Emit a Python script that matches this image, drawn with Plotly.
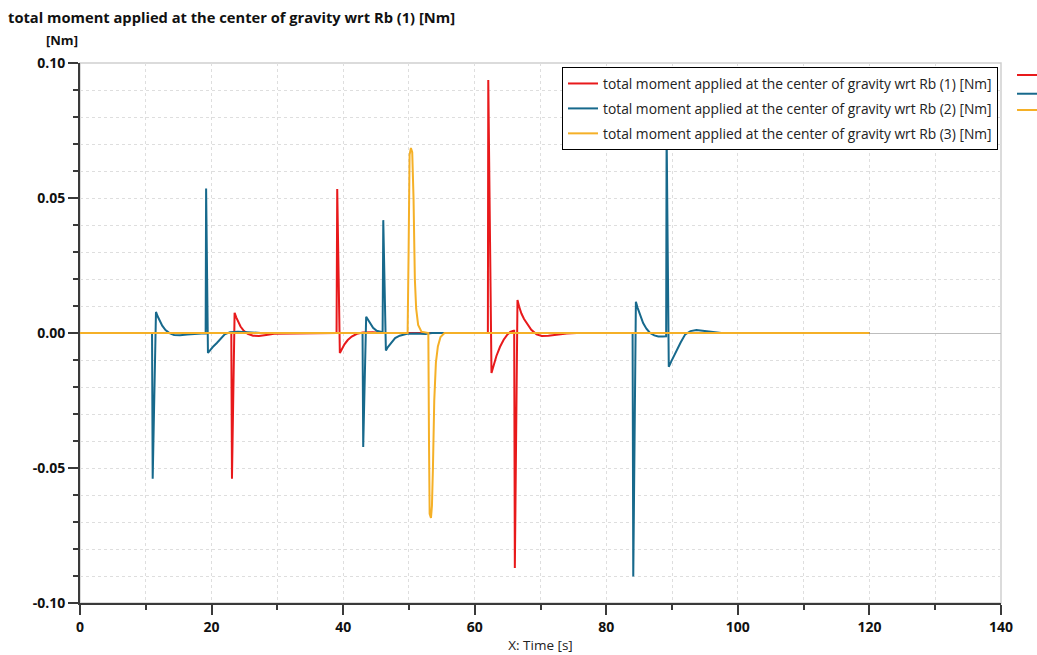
import plotly.graph_objects as go

# ---------------- data ----------------
series_names = [
    "total moment applied at the center of gravity wrt Rb (1) [Nm]",
    "total moment applied at the center of gravity wrt Rb (2) [Nm]",
    "total moment applied at the center of gravity wrt Rb (3) [Nm]",
]

t_rb1 = [0, 23.0, 23.1, 23.5, 23.75, 24.0, 24.4, 24.9, 25.5, 26.3, 27.2, 28.3, 29.5,
         39.0, 39.1, 39.5, 39.8, 40.2, 40.7, 41.3, 42.1, 43.0, 44.5, 46.0,
         62.0, 62.06, 62.55, 62.9, 63.3, 63.85, 64.4, 64.9, 65.4, 65.9, 66.0,
         66.1, 66.5, 66.75, 67.1, 67.5, 67.9, 68.6, 69.4, 70.2, 71.2, 72.5, 74.0, 75.5, 120]
m_rb1 = [0, 0, -0.054, 0.0075, 0.0058, 0.0042, 0.0024, 0.0008, -0.0003, -0.0010, -0.0011, -0.0007, -0.0003,
         0, 0.0533, -0.0074, -0.0058, -0.0042, -0.0026, -0.0013, -0.0003, 0.0002, 0.0003, 0,
         0, 0.0937, -0.0148, -0.0115, -0.0085, -0.0051, -0.0025, -0.0008, 0.0004, 0.0008, 0.0008,
         -0.087, 0.0122, 0.0098, 0.0072, 0.0052, 0.0037, 0.0012, -0.0005, -0.0011, -0.0010, -0.0006, -0.0002, 0, 0]

t_rb2 = [0, 10.95, 11.05, 11.55, 11.8, 12.1, 12.5, 13.0, 13.6, 14.3, 15.2, 16.3, 17.5, 18.5, 19.1,
         19.17, 19.45, 19.8, 20.3, 20.8, 21.4, 22.0, 22.8, 24.0, 25.5, 27.5,
         42.95, 43.05, 43.5, 43.8, 44.1, 44.55, 45.1, 45.6, 46.0,
         46.1, 46.5, 46.8, 47.3, 47.9, 48.6, 49.7, 51.0, 52.5, 53.5,
         84.0, 84.1, 84.5, 84.75, 85.1, 85.6, 86.1, 86.65, 87.3, 87.9, 88.6, 89.1,
         89.17, 89.5, 89.9, 90.3, 90.7, 91.3, 92.0, 92.8, 93.7, 94.7, 95.8, 97.5, 120]
m_rb2 = [0, 0, -0.054, 0.0078, 0.0062, 0.0045, 0.0027, 0.0011, 0.0000, -0.0007, -0.0008, -0.0006, -0.0003, -0.0002, -0.0002,
         0.0535, -0.0074, -0.0063, -0.0049, -0.0037, -0.0020, -0.0005, 0.0003, 0.0005, 0.0003, 0,
         0, -0.0422, 0.0060, 0.0048, 0.0037, 0.0019, 0.0008, 0.0004, 0.0003,
         0.0418, -0.0065, -0.0052, -0.0035, -0.0019, -0.0010, -0.0003, -0.0002, -0.0004, 0,
         0, -0.0902, 0.0116, 0.0094, 0.0068, 0.0037, 0.0016, 0.0000, -0.0009, -0.0013, -0.0013, -0.0012,
         0.075, -0.0125, -0.0104, -0.0083, -0.0063, -0.0035, -0.0005, 0.0007, 0.0011, 0.0008, 0.0003, 0, 0]

t_rb3 = [0, 49.8, 49.95, 50.1, 50.3, 50.5, 50.7, 50.9, 51.1, 51.4, 51.9,
         52.95, 53.05, 53.15, 53.35, 53.5, 53.65, 53.85, 54.1, 54.4, 54.8, 55.4, 120]
m_rb3 = [0, 0, 0.03, 0.066, 0.0685, 0.067, 0.05, 0.02, 0.009, 0.003, 0.0005,
         0, -0.04, -0.067, -0.0685, -0.064, -0.05, -0.025, -0.011, -0.005, -0.0015, 0, 0]

series_colors = ["#e8191b", "#17698c", "#f5b027"]

x_ticks = [0, 20, 40, 60, 80, 100, 120, 140]
y_ticks = [-0.10, -0.05, 0.00, 0.05, 0.10]
y_ticklabels = ["-0.10", "-0.05", "0.00", "0.05", "0.10"]

# ---------------- figure ----------------
fig = go.Figure()
for i, (tt, mm) in enumerate([(t_rb1, m_rb1), (t_rb2, m_rb2), (t_rb3, m_rb3)]):
    fig.add_trace(go.Scatter(
        x=tt, y=mm, mode="lines", name=series_names[i],
        line=dict(color=series_colors[i], width=2),
        legendgroup=f"g{i}",
    ))

FONT = "Open Sans"
grid_col = "#dedede"
axis_col = "#3a3a3a"

fig.update_layout(
    width=1037, height=655,
    margin=dict(l=80, r=36, t=63, b=52),
    paper_bgcolor="white", plot_bgcolor="white",
    font=dict(family=FONT, color="#222"),
    title=dict(
        text="total moment applied at the center of gravity wrt Rb (1) [Nm]",
        x=8 / 1037, xanchor="left", xref="container",
        y=1 - 18 / 655, yanchor="middle", yref="container",
        font=dict(family=FONT, size=14.7, weight="bold", color="#111"),
    ),
    showlegend=True,
    legend=dict(
        x=(562 - 80) / 921, y=(603 - 67) / 540, xanchor="left", yanchor="top",
        bgcolor="white", bordercolor="black", borderwidth=1,
        font=dict(family=FONT, size=13.8, color="#222"),
        traceorder="grouped", tracegroupgap=4, itemwidth=30,
    ),
    xaxis=dict(
        range=[0, 140], tickmode="array", tickvals=x_ticks, automargin=False,
        showline=True, linecolor=axis_col, linewidth=2,
        ticks="outside", ticklen=10, tickwidth=1.5, tickcolor=axis_col,
        showgrid=True, gridcolor=grid_col, griddash="dot", gridwidth=1,
        zeroline=False,
        minor=dict(dtick=10, tick0=0, ticks="outside", ticklen=5, tickcolor=axis_col,
                   showgrid=True, gridcolor=grid_col, griddash="dot"),
        tickfont=dict(family=FONT, size=14, weight="bold", color="#111"),
        title=dict(text="X: Time [s]", font=dict(family=FONT, size=13.5, color="#222"), standoff=6),
    ),
    yaxis=dict(
        range=[-0.1, 0.1], tickmode="array", tickvals=y_ticks, ticktext=y_ticklabels, automargin=False,
        showline=True, linecolor=axis_col, linewidth=2,
        ticks="outside", ticklen=10, tickwidth=1.5, tickcolor=axis_col,
        showgrid=True, gridcolor=grid_col, griddash="dot", gridwidth=1,
        zeroline=True, zerolinecolor="#bdbdbd", zerolinewidth=1,
        minor=dict(dtick=0.01, tick0=0, ticks="outside", ticklen=5, tickcolor=axis_col,
                   showgrid=True, gridcolor=grid_col, griddash="dot"),
        tickfont=dict(family=FONT, size=14, weight="bold", color="#111"),
    ),
)

# light frame on top/right of the plot area
fig.add_shape(type="rect", xref="paper", yref="paper", x0=0, x1=1, y0=0, y1=1,
              line=dict(color="#cfcfcf", width=1.5), layer="below")

# y unit label
fig.add_annotation(text="[Nm]", xref="paper", yref="paper",
                   x=(44 - 80) / 921, y=(603 - 40) / 540, xanchor="left", yanchor="middle", showarrow=False,
                   font=dict(family=FONT, size=13, weight="bold", color="#111"))

# cut-off secondary legend glyphs at the right edge
for i, yy in enumerate([0.9778, 0.9431, 0.913]):
    fig.add_shape(type="line", xref="paper", yref="paper", x0=1.0174, x1=1.05, y0=yy, y1=yy,
                  line=dict(color=series_colors[i], width=2))

fig.write_html("out.html")
